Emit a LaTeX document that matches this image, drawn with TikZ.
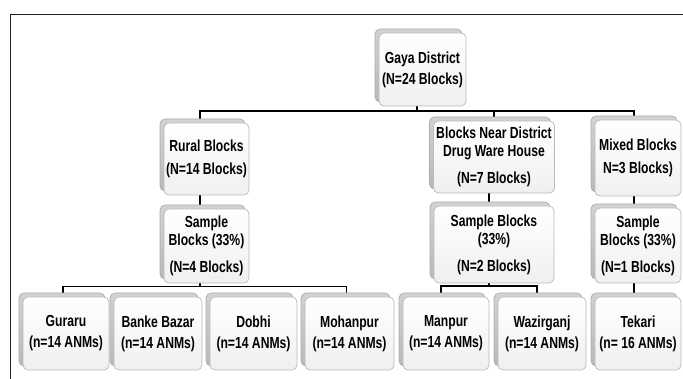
\documentclass[tikz,border=0pt]{standalone}
\usepackage{fontspec}
\setmainfont{Liberation Sans}[FakeStretch=0.76]
\usetikzlibrary{shadows,backgrounds}

\tikzset{
  tile/.style={
    draw=gray!55, line width=0.7pt, rounded corners=5pt,
    top color=white, bottom color=gray!12,
    general shadow={top color=gray!35, bottom color=gray!55, draw=gray!65,
                    shadow xshift=-4pt, shadow yshift=4pt},
    align=center, inner sep=0pt,
    font=\bfseries\fontsize{16}{18}\selectfont,
    minimum width=86pt, minimum height=73pt},
  link/.style={draw=black, line width=1.7pt},
  frameline/.style={draw=gray!25!black, line width=1.6pt}
}

\begin{document}
\begin{tikzpicture}[x=1pt,y=-1pt]
\useasboundingbox (0,0) rectangle (683,379);

% outer frame (top and left edges)
\draw[frameline] (683,14.5) -- (10.5,14.5) -- (10.5,379);

% top level
\node[tile, minimum width=87pt] (gaya) at (422.5,69.5) {Gaya District\\[3pt](N=24 Blocks)};

% second level
\node[tile, minimum width=85pt, minimum height=72pt] (rural) at (206.5,159) {Rural Blocks\\[5pt](N=14 Blocks)};
\node[tile, minimum width=121pt, minimum height=72pt] (near) at (494,157) {Blocks Near District\\Drug Ware House\\[9pt](N=7 Blocks)};
\node[tile, minimum height=76pt] (mixed) at (638,158) {Mixed Blocks\\[5pt]N=3 Blocks)};

% sampled blocks
\node[tile, minimum width=85pt, minimum height=74pt] (rsample) at (206.5,246) {Sample\\Blocks (33\%)\\[9pt](N=4 Blocks)};
\node[tile, minimum width=120pt, minimum height=77pt] (nsample) at (494,244.5) {Sample Blocks\\(33\%)\\[9pt](N=2 Blocks)};
\node[tile, minimum height=75pt] (msample) at (638,245.5) {Sample\\Blocks (33\%)\\[9pt](N=1 Blocks)};

% selected blocks
\node[tile] (guraru)    at (66,333.5)    {Guraru\\[3pt](n=14 ANMs)};
\node[tile, minimum width=88pt] (banke) at (158,333.5) {Banke Bazar\\[3pt](n=14 ANMs)};
\node[tile, minimum width=87pt] (dobhi) at (253.5,333.5) {Dobhi\\[3pt](n=14 ANMs)};
\node[tile, minimum width=89pt] (mohanpur) at (349.5,333.5) {Mohanpur\\[3pt](n=14 ANMs)};
\node[tile] (manpur)    at (446,333.5)   {Manpur\\[3pt](n=14 ANMs)};
\node[tile, minimum width=88pt] (wazirganj) at (542,333.5) {Wazirganj\\[3pt](n=14 ANMs)};
\node[tile] (tekari)    at (638,333.5)   {Tekari\\[3pt](n= 16 ANMs)};

% connectors
\begin{scope}[on background layer]
  \coordinate (mb) at (417,111);
  \draw[link] ([xshift=-5.5pt]gaya.south) -- (mb);
  \draw[link] ([xshift=-6.5pt]rural.north) |- (mb) -| ([xshift=-4pt]mixed.north);
  \draw[link] (mb -| near.north) -- (near.north);

  \draw[link] ([xshift=-6.5pt]rural.south) -- ([xshift=-6.5pt]rsample.north);
  \draw[link] ([xshift=-5pt]near.south) -- ([xshift=-5pt]nsample.north);
  \draw[link] ([xshift=-4pt]mixed.south) -- ([xshift=-4pt]msample.north);

  \coordinate (rb) at (200,286.5);
  \draw[link] ([xshift=-6.5pt]rsample.south) -- (rb);
  \draw[link] ([xshift=-3pt]guraru.north) |- (rb) -| ([xshift=-3pt]mohanpur.north);

  \coordinate (nb) at (489,286);
  \draw[link] ([xshift=-5pt]nsample.south) -- (nb);
  \draw[link] ([xshift=-5pt]manpur.north) |- (nb) -| ([xshift=-5pt]wazirganj.north);

  \draw[link] ([xshift=-4pt]msample.south) -- ([xshift=-4pt]tekari.north);
\end{scope}
\end{tikzpicture}
\end{document}
